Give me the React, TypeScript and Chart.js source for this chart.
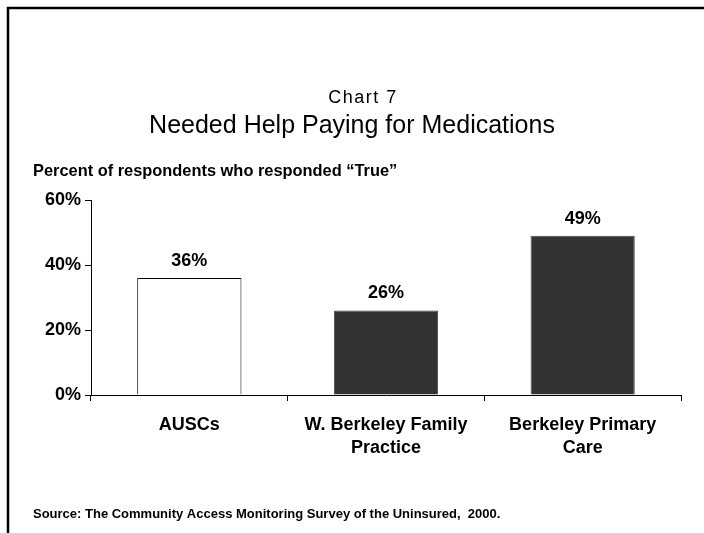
import React, { useEffect, useRef } from "react";
import { Chart, registerables } from "chart.js";

Chart.register(...registerables);

const categories: (string | string[])[] = [
  "AUSCs",
  ["W. Berkeley Family", "Practice"],
  ["Berkeley Primary", "Care"],
];
const values: number[] = [36, 26, 49];
const yTicks: number[] = [0, 20, 40, 60];
const barFills: string[] = ["#ffffff", "#333333", "#333333"];
const barBorders: string[] = ["#000000", "#4a4a4a", "#4a4a4a"];

const titleSmall = "Chart 7";
const titleMain = "Needed Help Paying for Medications";
const yTitle = "Percent of respondents who responded \u201cTrue\u201d";
const sourceText = "Source: The Community Access Monitoring Survey of the Uninsured,  2000.";

const FONT = "'Liberation Sans', Arial, sans-serif";

export default function App() {
  const ref = useRef<HTMLCanvasElement | null>(null);

  useEffect(() => {
    const canvas = ref.current;
    if (!canvas) return;

    const decor = {
      id: "decor",
      beforeDraw(chart: any) {
        const ctx = chart.ctx;
        ctx.save();
        ctx.fillStyle = "#ffffff";
        ctx.fillRect(0, 0, chart.width, chart.height);
        // frame (left and top only)
        ctx.strokeStyle = "#000000";
        ctx.lineWidth = 2.5;
        ctx.beginPath();
        ctx.moveTo(8, chart.height);
        ctx.lineTo(8, 8);
        ctx.lineTo(chart.width, 8);
        ctx.stroke();
        ctx.restore();
      },
      afterDraw(chart: any) {
        const ctx = chart.ctx;
        ctx.save();
        ctx.fillStyle = "#000000";
        ctx.textBaseline = "alphabetic";
        // titles
        ctx.textAlign = "center";
        ctx.font = `18px ${FONT}`;
        (ctx as any).letterSpacing = "1.5px";
        ctx.fillText(titleSmall, 363, 103);
        (ctx as any).letterSpacing = "0px";
        ctx.font = `25px ${FONT}`;
        ctx.fillText(titleMain, 352, 133);
        // y title
        ctx.textAlign = "left";
        ctx.font = `bold 16.4px ${FONT}`;
        ctx.fillText(yTitle, 33, 176);
        // source
        ctx.font = `bold 13px ${FONT}`;
        ctx.fillText(sourceText, 33, 518);
        // data labels
        ctx.textAlign = "center";
        ctx.textBaseline = "bottom";
        ctx.font = `bold 18px ${FONT}`;
        const meta = chart.getDatasetMeta(0);
        meta.data.forEach((bar: any, i: number) => {
          ctx.fillText(values[i] + "%", bar.x, bar.y - 8);
        });
        ctx.restore();
      },
    };

    const chart = new Chart(canvas, {
      type: "bar",
      data: {
        labels: categories as any,
        datasets: [
          {
            data: values,
            backgroundColor: barFills,
            borderColor: barBorders,
            borderWidth: 1,
            barPercentage: 0.53,
            categoryPercentage: 1,
          },
        ],
      },
      options: {
        responsive: false,
        animation: false,
        devicePixelRatio: 1,
        layout: { padding: { top: 200, left: 0, right: 23, bottom: 0 } },
        plugins: {
          legend: { display: false },
          title: { display: false },
          tooltip: { enabled: false },
        },
        scales: {
          x: {
            grid: {
              display: true,
              drawOnChartArea: false,
              drawTicks: true,
              tickLength: 6,
              tickColor: "#000000",
              color: "#000000",
              offset: true,
            },
            border: { display: true, color: "#000000", width: 1 },
            ticks: {
              color: "#000000",
              padding: 13,
              maxRotation: 0,
              autoSkip: false,
              font: { family: FONT, size: 18, weight: "bold", lineHeight: "23px" } as any,
            },
            afterFit: (s: any) => {
              s.height = 138;
            },
          },
          y: {
            min: 0,
            max: 60,
            afterBuildTicks: (s: any) => {
              s.ticks = yTicks.map((v) => ({ value: v }));
            },
            grid: {
              display: true,
              drawOnChartArea: false,
              drawTicks: true,
              tickLength: 6,
              tickColor: "#000000",
              color: "#000000",
            },
            border: { display: true, color: "#000000", width: 1 },
            ticks: {
              color: "#000000",
              padding: 4,
              callback: (v: any) => v + "%",
              font: { family: FONT, size: 18, weight: "bold" } as any,
            },
            afterFit: (s: any) => {
              s.width = 91;
            },
          },
        },
      },
      plugins: [decor],
    });

    return () => chart.destroy();
  }, []);

  return (
    <div style={{ position: "absolute", left: 0, top: 0, width: 704, height: 533 }}>
      <canvas ref={ref} width={704} height={533} style={{ display: "block", width: 704, height: 533 }} />
    </div>
  );
}
